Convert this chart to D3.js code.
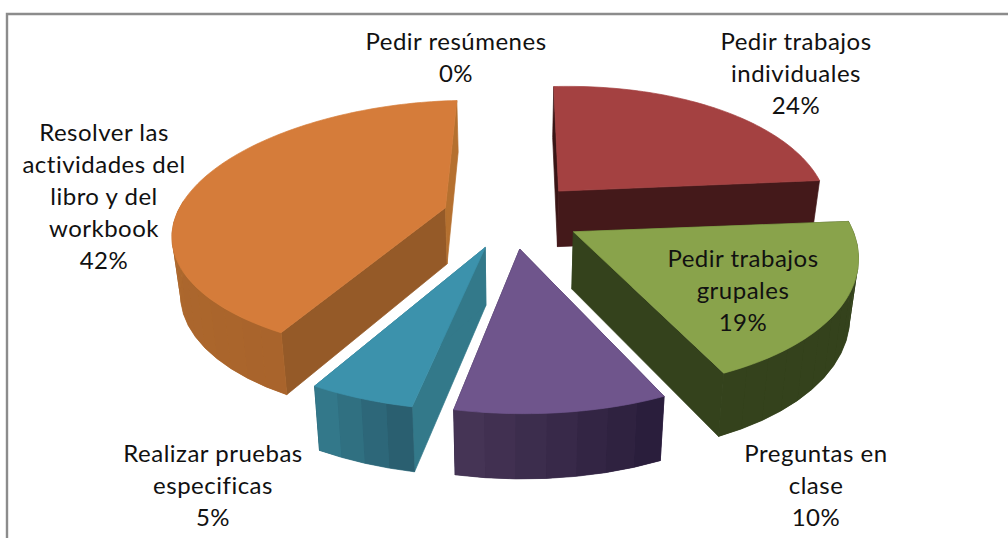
<!DOCTYPE html>
<html><head><meta charset="utf-8">
<script src="https://cdn.jsdelivr.net/npm/d3@7"></script>
<style>html,body{margin:0;padding:0;background:#fff;overflow:hidden}svg{display:block}text{font-family:Lato,"Noto Sans",sans-serif;font-size:24px;letter-spacing:.5px;fill:#111}</style>
</head><body><svg id="c" width="1008" height="538"></svg>
<script>
const categories = ["Pedir trabajos individuales","Pedir trabajos grupales","Preguntas en clase","Realizar pruebas especificas","Resolver las actividades del libro y del workbook","Pedir resúmenes"];
const values = [24,19,10,5,42,0];
const topColors = ["#a44141","#89a34b","#6f558c","#3c92ac","#d57c3a","#d57c3a"];
const startWall = ["#3a1516","#34421c","#3c2c52","#33798a","#955a28","#955a28"];
const endWall = ["#44191a","#34421c","#3c2c52","#33798a","#b5702f","#b5702f"];
const bandFrom = ["#5a2222","#34421c","#2a1e3c","#2a5f70","#a9642c","#a9642c"];
const bandTo = ["#44191a","#34421c","#453455","#33788a","#b5702f","#b5702f"];

const svg = d3.select("#c");
// frame
svg.append("path").attr("d","M7,538V14H1008").attr("fill","none").attr("stroke","#8c8c8c").attr("stroke-width",2.4);

const cx=511, cy=215, A=274, B=127, perspX=.17, perspY=.155, skew=7, tilt=4, H=58, hScale=.975;
const explodeBy=[.26,.26,.26,.26,.25,.26];
const widthBy=[1,1,1,1,.98,1];
const startAngle=-1*Math.PI/180;
const pie=d3.pie().sort(null).value(d=>d).startAngle(startAngle).endAngle(startAngle+2*Math.PI);
const arcs=pie(values).map((a,i)=>({...a,i}));

function proj(X,Z,bottom){
  let sx=1/(1+perspX*Z), sy=1/(1+perspY*Z);
  if(bottom){sx*=hScale;sy*=hScale;}
  return [cx+(X*A+skew*Z)*sx, cy+(-Z*B-Z*X*tilt)*sy+(bottom?H*sy:0)];
}
function off(a){const m=(a.startAngle+a.endAngle)/2,e=explodeBy[a.i];return [e*Math.sin(m),e*Math.cos(m)];}
function rim(a,t,bottom){const [ox,oz]=off(a);return proj(ox+widthBy[a.i]*Math.sin(t),oz+Math.cos(t),bottom);}
function apex(a,bottom){const [ox,oz]=off(a);return proj(ox,oz,bottom);}
const line=d3.line();
function poly(g,pts,col){g.append("path").attr("d",line(pts)+"Z").attr("fill",col).attr("stroke",col).attr("stroke-width",.7).attr("stroke-linejoin","round");}

const order=arcs.filter(a=>a.value>0).sort((p,q)=>off(q)[1]-off(p)[1]);
order.forEach(a=>{
  const g=svg.append("g"), i=a.i;
  poly(g,[rim(a,a.startAngle,false),apex(a,false),apex(a,true),rim(a,a.startAngle,true)],startWall[i]);
  poly(g,[rim(a,a.endAngle,false),apex(a,false),apex(a,true),rim(a,a.endAngle,true)],endWall[i]);
  const n=Math.max(3,Math.round((a.endAngle-a.startAngle)/(Math.PI/36)));
  const ang=d3.scaleLinear().domain([0,n]).range([a.startAngle,a.endAngle]);
  const shade=d3.interpolateRgb(bandFrom[i],bandTo[i]);
  // outer wall: solid underlay, then shaded bands
  const vis=d3.range(n).filter(k=>Math.cos((ang(k)+ang(k+1))/2)<=0.05);
  if(vis.length){
    const ks=[...vis,vis[vis.length-1]+1];
    poly(g,[...ks.map(k=>rim(a,ang(k),false)),...ks.slice().reverse().map(k=>rim(a,ang(k),true))],shade(.5));
  }
  vis.forEach(k=>{
    g.append("path").attr("d",line([rim(a,ang(k),false),rim(a,ang(k+1),false),rim(a,ang(k+1),true),rim(a,ang(k),true)])+"Z")
      .attr("fill",shade(k/(n-1)));
  });
  const tops=[apex(a,false)];
  d3.range(0,n*4+1).forEach(k=>tops.push(rim(a,a.startAngle+(a.endAngle-a.startAngle)*k/(n*4),false)));
  poly(g,tops,topColors[i]);
});

const labelLayout=[
 {c:0,x:796,y:50,lines:["Pedir trabajos","individuales"]},
 {c:1,x:743,y:267,lines:["Pedir trabajos","grupales"]},
 {c:2,x:816,y:462,lines:["Preguntas en","clase"]},
 {c:3,x:213,y:462,lines:["Realizar pruebas","especificas"]},
 {c:4,x:104,y:141,lines:["Resolver las","actividades del","libro y del","workbook"]},
 {c:5,x:456,y:50,lines:["Pedir resúmenes"]}
];
labelLayout.forEach(l=>{
  const all=[...l.lines,values[l.c]+"%"];
  const t=svg.append("text").attr("text-anchor","middle");
  all.forEach((s,j)=>t.append("tspan").attr("x",l.x).attr("y",l.y+j*32).text(s));
});
</script></body></html>
